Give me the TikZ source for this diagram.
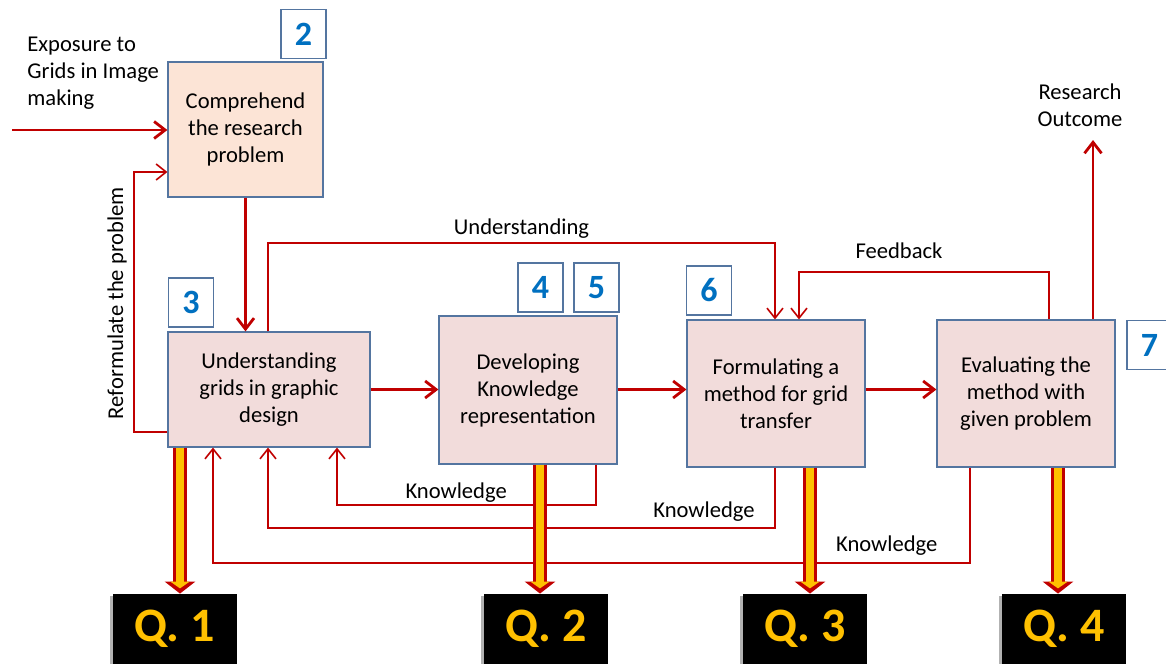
\documentclass[tikz,border=0pt]{standalone}
\usepackage{fontspec}
\setmainfont{Carlito}
\usepackage{xcolor}
\usetikzlibrary{positioning, arrows.meta, shadows}

\definecolor{linered}{HTML}{C00000}
\definecolor{boxpink}{HTML}{F2DCDB}
\definecolor{boxpeach}{HTML}{FCE4D6}
\definecolor{boxedge}{HTML}{5475A0}
\definecolor{numblue}{HTML}{0070C0}
\definecolor{qgold}{HTML}{FFC000}

\begin{document}
\begin{tikzpicture}[
  x=0.5bp, y=-0.5bp,
  stepbox/.style={draw=boxedge, line width=0.6bp, fill=boxpink, inner sep=0pt, align=center, font=\fontsize{11.3bp}{13.5bp}\selectfont},
  numbox/.style={draw=boxedge, line width=0.6bp, fill=white, minimum width=22.5bp, minimum height=24.5bp, inner sep=0pt, text=numblue, font=\fontsize{17bp}{17bp}\selectfont\bfseries},
  qbox/.style={fill=black, minimum width=62bp, minimum height=35bp, inner sep=0pt, text=qgold, font=\fontsize{24bp}{24bp}\selectfont\bfseries, drop shadow={shadow xshift=-1.5bp, shadow yshift=-0.8bp, fill=black!60, opacity=0.5}},
  arrow/.style={draw=linered, line width=1.4bp, -{Straight Barb[length=5.5bp, width=8.5bp]}},
  thinarrow/.style={draw=linered, line width=0.8bp, -{Straight Barb[length=5bp, width=8bp]}},
  fatout/.style={draw=linered, line width=7bp, -{Triangle[length=6bp, width=15bp]}},
  fatin/.style={draw=qgold, line width=3.6bp, shorten >=2.6bp, -{Triangle[length=3.4bp, width=9.5bp]}},
  lbl/.style={font=\fontsize{11.3bp}{13.5bp}\selectfont, inner sep=1pt},
]
\useasboundingbox (0,0) rectangle (1166,663);
\clip (0,0) rectangle (1166,663);

% ================= process boxes =================
\node[stepbox, fill=boxpeach, minimum width=77.5bp, minimum height=67.5bp] (b1) at (245.5,129.5) {Comprehend\\the research\\problem};
\node[stepbox, minimum width=101bp, minimum height=57.5bp] (b2) at (269,389.5) {Understanding\\grids in graphic\\design};
\node[stepbox, minimum width=89bp, minimum height=74bp] (b3) at (528,390) {Developing\\Knowledge\\representation};
\node[stepbox, minimum width=89bp, minimum height=73.5bp] (b4) at (776,393.5) {Formulating a\\method for grid\\transfer};
\node[stepbox, minimum width=89bp, minimum height=73.5bp] (b5) at (1026,393.5) {Evaluating the\\method with\\given problem};

% ================= step numbers =================
\node[numbox] (n2) at (303.5,34) {2};
\node[numbox] (n3) at (191,302.5) {3};
\node[numbox] (n4) at (540.5,287.5) {4};
\node[numbox] (n5) at (596.5,287.5) {5};
\node[numbox] (n6) at (709,290.5) {6};
\node[numbox] (n7) at (1149.5,345) {7};

% ================= questions =================
\node[qbox] (q1) at (174.5,629) {Q. 1};
\node[qbox] (q2) at (546,629) {Q. 2};
\node[qbox] (q3) at (805,629) {Q. 3};
\node[qbox] (q4) at (1064,629) {Q. 4};

% ================= free texts =================
\node[lbl, anchor=west, align=left] (exposure) at (25,73) {Exposure to\\Grids in Image\\making};
\node[lbl, align=center] (outcome) at (1080,105) {Research\\Outcome};
\node[lbl, rotate=90] (reform) at (117,303) {Reformulate the problem};
\coordinate (src) at (12,130);
\coordinate (out) at (1093,140);

% ================= main flow =================
\draw[arrow] (src) -- (b1.west |- src);
\draw[arrow] (b1.south) -- (b1.south |- b2.north);
\draw[arrow] (b2.east) -- (b2.east -| b3.west);
\draw[arrow] (b2.east -| b3.east) -- (b2.east -| b4.west);
\draw[arrow] (b2.east -| b4.east) -- (b2.east -| b5.west);
\draw[arrow] (1093,0 |- b5.north) -- (out);

% ================= feedback loops =================
\draw[thinarrow] (b2.west |- 0,432) -- (134,432) |- (b1.west |- 0,172);
\draw[thinarrow] (268,0 |- b2.north) |- (775,243) node[pos=0.75, above, lbl, yshift=1bp] {Understanding} -- (775,0 |- b4.north);
\draw[thinarrow] (1049,0 |- b5.north) |- (799,272) node[pos=0.8, above, lbl, yshift=5.5bp] {Feedback} -- (799,0 |- b4.north);
\draw[thinarrow] (596,0 |- b3.south) |- (337,505) node[pos=0.77, above, lbl] {Knowledge} -- (337,0 |- b2.south);
\draw[thinarrow] (775,0 |- b4.south) |- (268,528) node[pos=0.57, above, lbl, yshift=2bp] {Knowledge} -- (268,0 |- b2.south);
\draw[thinarrow] (970,0 |- b5.south) |- (213,563) node[pos=0.555, above, lbl, yshift=2.5bp] {Knowledge} -- (213,0 |- b2.south);

% ================= outputs to questions =================
\foreach \b/\q/\x in {b2/q1/180, b3/q2/540, b4/q3/810, b5/q4/1058} {
  \draw[fatout] (\x,0 |- \b.south) -- (\x,0 |- \q.north);
  \draw[fatin] (\x,0 |- \b.south) -- (\x,0 |- \q.north);
}

\end{tikzpicture}
\end{document}
